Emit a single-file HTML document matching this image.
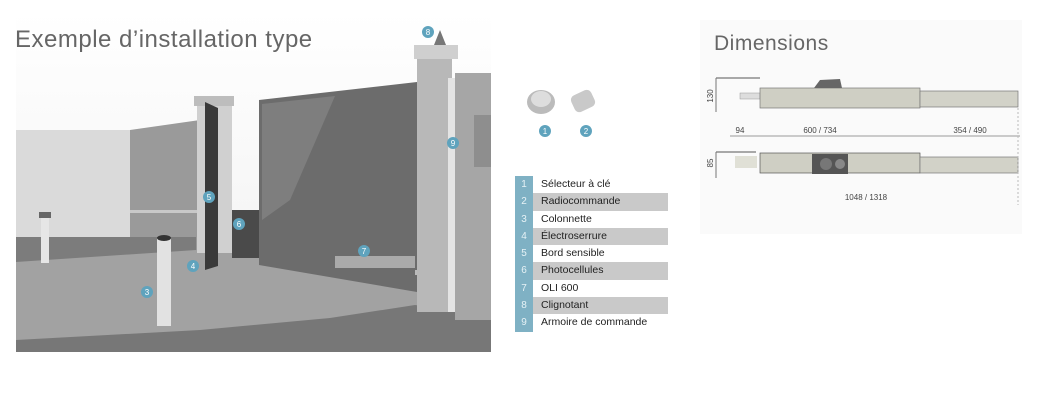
<!DOCTYPE html>
<html><head><meta charset="utf-8"><style>
body{margin:0;width:1049px;height:400px;background:#fff;overflow:hidden;position:relative;font-family:"Liberation Sans","DejaVu Sans",sans-serif}
.t{position:absolute;font-weight:300;color:#666;letter-spacing:0.5px}
.leg{position:absolute;left:515px;top:176px;width:153px}
.leg div{height:17.3px;line-height:17.3px;font-size:10.5px;color:#222;position:relative;padding-left:26px}
.leg div b{position:absolute;left:0;top:0;width:18px;height:100%;background:#7fb1c4;color:#e6f2f6;font-weight:normal;text-align:center;font-size:10px}
.leg div.g{background:#c9c9c9}
</style></head><body>
<svg width="1049" height="400" style="position:absolute;left:0;top:0">
<defs><linearGradient id="sky" x1="0" y1="0" x2="0" y2="1"><stop offset="0" stop-color="#fff"/><stop offset="1" stop-color="#f0f0f0"/></linearGradient></defs>
<rect x="16" y="12" width="475" height="340" fill="url(#sky)"/>
<rect x="16" y="130" width="114" height="110" fill="#dadada"/>
<polygon points="130,130 200,120 200,255 130,240" fill="#9a9a9a"/>
<rect x="130" y="210" width="70" height="3" fill="#c8c8c8"/>
<rect x="16" y="237" width="180" height="25" fill="#7c7c7c"/>
<polygon points="16,262 196,250 260,255 415,290 491,320 491,352 16,352" fill="#a2a2a2"/>
<polygon points="16,340 200,330 330,318 415,305 491,315 491,352 16,352" fill="#777"/>
<rect x="41" y="215" width="8" height="48" fill="#e6e6e6"/><rect x="39" y="212" width="12" height="6" fill="#666"/>
<rect x="197" y="98" width="35" height="155" fill="#d0d0d0"/><rect x="194" y="96" width="40" height="10" fill="#bdbdbd"/>
<polygon points="205,102 218,108 218,266 205,270" fill="#3a3a3a"/>
<rect x="232" y="210" width="28" height="48" fill="#4a4a4a"/>
<polygon points="259,100 417,82 417,292 259,265" fill="#6c6c6c"/>
<polygon points="262,104 335,96 290,200 262,220" fill="#8a8a8a" opacity=".6"/>
<rect x="335" y="256" width="80" height="12" fill="#aaa"/><rect x="415" y="270" width="22" height="5" fill="#bbb"/>
<rect x="417" y="50" width="35" height="262" fill="#b8b8b8"/><rect x="414" y="45" width="44" height="14" fill="#cfcfcf"/>
<rect x="448" y="78" width="7" height="234" fill="#e4e4e4"/>
<rect x="455" y="73" width="36" height="247" fill="#a6a6a6"/><rect x="474" y="115" width="17" height="52" fill="#8e8e8e"/>
<polygon points="434,45 440,30 446,45" fill="#777"/>
<rect x="157" y="238" width="14" height="88" fill="#e2e2e2"/><ellipse cx="164" cy="238" rx="7" ry="3" fill="#333"/>
<g fill="#5fa3bd">
<circle cx="428" cy="32" r="6"/><circle cx="453" cy="143" r="6"/><circle cx="209" cy="197" r="6"/><circle cx="239" cy="224" r="6"/><circle cx="364" cy="251" r="6"/><circle cx="193" cy="266" r="6"/><circle cx="147" cy="292" r="6"/>
<circle cx="545" cy="131" r="6"/><circle cx="586" cy="131" r="6"/>
</g>
<g fill="#fff" font-size="8" text-anchor="middle" font-family="Liberation Sans">
<text x="428" y="35">8</text><text x="453" y="146">9</text><text x="209" y="200">5</text><text x="239" y="227">6</text><text x="364" y="254">7</text><text x="193" y="269">4</text><text x="147" y="295">3</text><text x="545" y="134">1</text><text x="586" y="134">2</text>
</g>
<ellipse cx="541" cy="102" rx="14" ry="12" fill="#bbb"/><ellipse cx="541" cy="99" rx="10" ry="8" fill="#ddd"/>
<rect x="572" y="92" width="22" height="18" rx="5" fill="#c9c9c9" transform="rotate(-25 583 101)"/>
<rect x="700" y="20" width="322" height="214" fill="#fafafa"/>
<line x1="716" y1="78" x2="760" y2="78" stroke="#555"/>
<line x1="716" y1="78" x2="716" y2="112" stroke="#777"/>
<rect x="740" y="93" width="20" height="6" fill="#ddd" stroke="#999" stroke-width=".5"/>
<rect x="760" y="88" width="160" height="20" fill="#cfcfc4" stroke="#777" stroke-width=".7"/>
<polygon points="814,88 820,80 840,79 842,88" fill="#666"/>
<rect x="920" y="91" width="98" height="16" fill="#d2d2c8" stroke="#777" stroke-width=".7"/>
<line x1="730" y1="136" x2="1020" y2="136" stroke="#999"/>
<rect x="735" y="156" width="22" height="12" fill="#e0e0d6"/>
<rect x="760" y="153" width="160" height="20" fill="#cfcfc4" stroke="#555" stroke-width=".7"/>
<rect x="812" y="154" width="36" height="20" fill="#555"/>
<circle cx="826" cy="164" r="6" fill="#777"/><circle cx="840" cy="164" r="5" fill="#888"/>
<rect x="920" y="157" width="98" height="16" fill="#d2d2c8" stroke="#777" stroke-width=".7"/>
<line x1="716" y1="152" x2="756" y2="152" stroke="#555"/><line x1="716" y1="152" x2="716" y2="178" stroke="#777"/>
<line x1="1018" y1="108" x2="1018" y2="205" stroke="#bbb" stroke-dasharray="2,2"/>
<g font-size="8" fill="#444" font-family="Liberation Sans" text-anchor="middle">
<text x="740" y="133">94</text><text x="820" y="133">600 / 734</text><text x="970" y="133">354 / 490</text><text x="866" y="200">1048 / 1318</text>
<text transform="translate(713,96) rotate(-90)">130</text><text transform="translate(713,163) rotate(-90)">85</text>
</g>
</svg>
<div class="t" style="left:15px;top:26px;font-size:24px">Exemple d’installation type</div>
<div class="t" style="left:714px;top:32px;font-size:21px">Dimensions</div>
<div class="leg">
<div><b>1</b>Sélecteur à clé</div>
<div class="g"><b>2</b>Radiocommande</div>
<div><b>3</b>Colonnette</div>
<div class="g"><b>4</b>Électroserrure</div>
<div><b>5</b>Bord sensible</div>
<div class="g"><b>6</b>Photocellules</div>
<div><b>7</b>OLI 600</div>
<div class="g"><b>8</b>Clignotant</div>
<div><b>9</b>Armoire de commande</div>
</div>
</body></html>
